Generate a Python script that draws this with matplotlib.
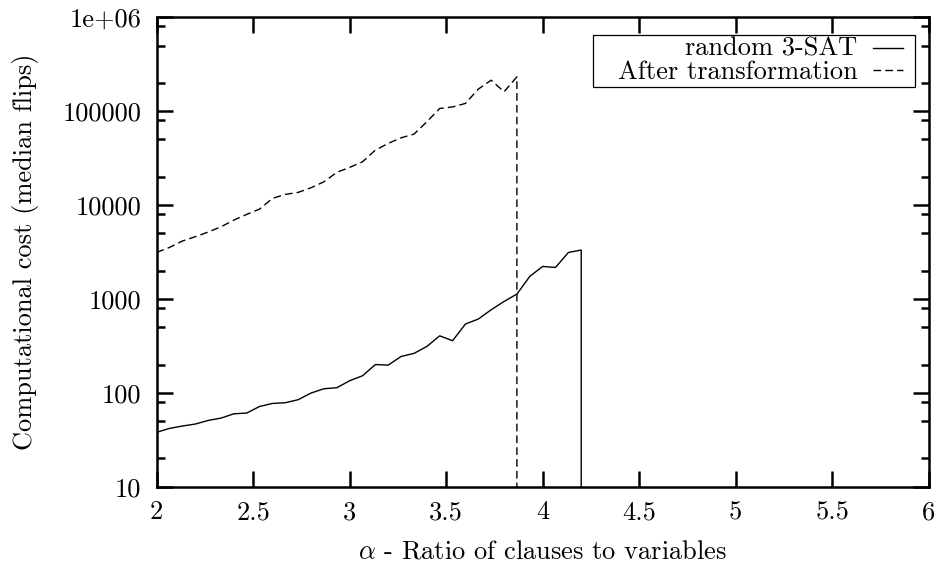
import matplotlib
matplotlib.use('Agg')
import matplotlib.pyplot as plt
import numpy as np
from matplotlib.patches import Rectangle

plt.rcParams['font.family'] = 'cmr10'
plt.rcParams['mathtext.fontset'] = 'cm'
plt.rcParams['axes.formatter.use_mathtext'] = True

# clause/variable ratio, step of 1/15
alpha_sat = 2 + np.arange(34) / 15.0
alpha_trans = 2 + np.arange(29) / 15.0

# median flips, random 3-SAT
flips_sat = [38, 41.8, 44.3, 46.5, 50.8, 53.8, 59.8, 60.9, 71.6, 77.1,
             78.5, 84.5, 99.5, 110.6, 113.3, 134.5, 152, 200, 197.6, 244,
             263, 312, 405, 359, 541, 611, 767, 940, 1127, 1738,
             2220, 2166, 3126, 3320]

# median flips after transformation
flips_trans = [3130, 3540, 4140, 4600, 5160, 5870, 6920, 7960, 9060, 11780,
               13000, 13650, 15300, 17700, 22300, 25200, 28900, 38500, 45400, 52100,
               57000, 77100, 107000, 111000, 121000, 172000, 214000, 161000, 232000]

xticks = [2, 2.5, 3, 3.5, 4, 4.5, 5, 5.5, 6]
xticklabels = ['2', '2.5', '3', '3.5', '4', '4.5', '5', '5.5', '6']
yticks = [10, 100, 1000, 10000, 100000, 1000000]
yticklabels = ['10', '100', '1000', '10000', '100000', '1e+06']

fs = 19

fig = plt.figure(figsize=(9.38, 5.68), dpi=100)
ax = fig.add_axes([0.167, 0.1431, 0.823, 0.8264])
ax.set_yscale('log', nonpositive='clip')

# past the last ratio no run finished: curve falls to the bottom
ax.plot(np.append(alpha_sat, alpha_sat[-1]), np.append(flips_sat, 0),
        color='black', linewidth=1.0)
ax.plot(np.append(alpha_trans, alpha_trans[-1]), np.append(flips_trans, 0),
        color='black', linewidth=1.0, dashes=(5.5, 3))

ax.set_xlim(2, 6)
ax.set_ylim(10, 1e6)
ax.set_xticks(xticks)
ax.set_xticklabels(xticklabels)
ax.set_yticks(yticks)
ax.set_yticklabels(yticklabels)
minor = [m * 10.0**e for e in range(1, 6) for m in (2, 5, 8)]
ax.set_yticks(minor, minor=True)
ax.yaxis.set_minor_formatter(matplotlib.ticker.NullFormatter())

ax.tick_params(which='both', direction='in', top=True, right=True,
               labelsize=fs, width=1.8)
ax.tick_params(which='major', length=11.5)
ax.tick_params(which='minor', length=5.8)
ax.tick_params(axis='y', which='major', pad=11)
ax.tick_params(axis='x', which='major', pad=10)
for s in ax.spines.values():
    s.set_linewidth(1.8)

ax.set_xlabel(r'$\alpha$ - Ratio of clauses to variables', fontsize=fs, labelpad=11)
ax.set_ylabel('Computational cost (median flips)', fontsize=fs, labelpad=17)

# key in gnuplot style: right aligned text, sample on the right
ax.add_patch(Rectangle((0.565, 0.851), 0.418, 0.111, transform=ax.transAxes,
                       fill=False, edgecolor='black', linewidth=0.9))
ax.text(0.908, 0.933, 'random 3-SAT', transform=ax.transAxes,
        ha='right', va='center', fontsize=fs)
ax.text(0.908, 0.884, 'After transformation', transform=ax.transAxes,
        ha='right', va='center', fontsize=fs)
ax.plot([0.928, 0.967], [0.935, 0.935], transform=ax.transAxes,
        color='black', linewidth=1.0)
ax.plot([0.928, 0.967], [0.887, 0.887], transform=ax.transAxes,
        color='black', linewidth=1.0, dashes=(5.5, 3))

plt.savefig('out.png', dpi=100)
